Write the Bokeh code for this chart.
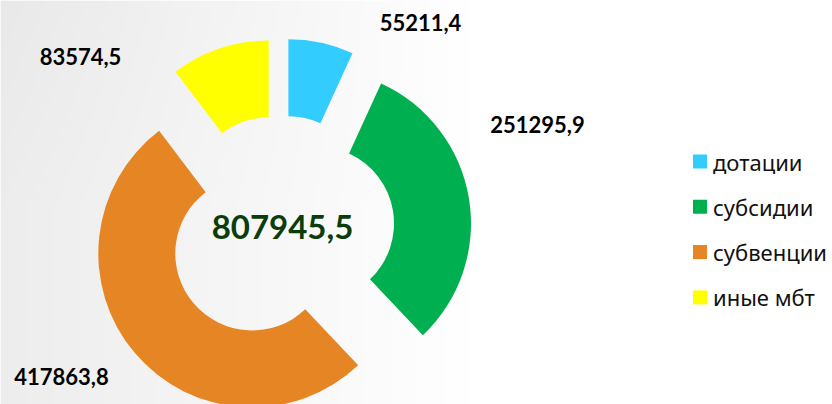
import numpy as np
from bokeh.plotting import figure
from bokeh.models import Range1d
from bokeh.core.properties import value
from bokeh.embed import file_html
from bokeh.resources import INLINE

# ---- data ----
categories = ["дотации", "субсидии", "субвенции", "иные мбт"]
values = [55211.4, 251295.9, 417863.8, 83574.5]
colors = ["#33CCFF", "#00B050", "#E68523", "#FFFF00"]
total_label = "807945,5"

# ---- layout (pixels, y measured from top of page) ----
W, H = 832, 404
CX, CY = 280, 229
R_OUT, R_IN = 154, 77
EXPLODE = 37
label_pos = [(420, 22), (537, 124), (61, 376), (80, 56)]
center_pos = (282, 226)
legend_x, legend_y0, legend_step = 699.5, 161, 45.3

def yup(y):
    return H - y

p = figure(width=W, height=H, x_range=Range1d(0, W), y_range=Range1d(0, H),
           output_backend="svg", toolbar_location=None, min_border=0)
p.axis.visible = False
p.grid.visible = False
p.outline_line_color = None
p.background_fill_color = "#ffffff"
p.border_fill_color = "#ffffff"

# soft grey-to-white background gradient
nx, ny = 208, 101
xs = np.linspace(0, W, nx)
ysv = np.linspace(0, H, ny)
XX, YY = np.meshgrid(xs, ysv)
g = 255 - 18 * np.clip((470 - XX) / 470, 0, 1) - 4 * np.clip((YY - 200) / 204, 0, 1) * np.clip((470 - XX) / 470, 0, 1)
g = g.astype(np.uint32)
img = (255 << 24) | (g << 16) | (g << 8) | g
p.image_rgba(image=[img.astype(np.uint32)], x=0, y=0, dw=W, dh=H)

# ---- donut slices ----
total = sum(values)
cum = np.cumsum([0] + values) / total
for i, v in enumerate(values):
    a_end = np.pi / 2 - 2 * np.pi * cum[i]
    a_start = np.pi / 2 - 2 * np.pi * cum[i + 1]
    mid = (a_start + a_end) / 2
    x = CX + EXPLODE * np.cos(mid)
    y = yup(CY) + EXPLODE * np.sin(mid)
    p.annular_wedge(x=x, y=y, inner_radius=R_IN, outer_radius=R_OUT,
                    start_angle=a_start, end_angle=a_end, direction="anticlock",
                    fill_color=colors[i], line_color=None)

# ---- value labels ----
for i, v in enumerate(values):
    txt = f"{v:.1f}".replace(".", ",")
    lx, ly = label_pos[i]
    p.text(x=[lx], y=[yup(ly)], text=[txt], text_align="center", text_baseline="middle",
           text_font=value("Lato"), text_font_style="bold", text_font_size="22px",
           text_color="#000000")

p.text(x=[center_pos[0]], y=[yup(center_pos[1])], text=[total_label],
       text_align="center", text_baseline="middle",
       text_font=value("Lato"), text_font_style="bold", text_font_size="33px",
       text_color="#0A3D0A")

# ---- legend ----
for i, c in enumerate(categories):
    yy = yup(legend_y0 + i * legend_step)
    p.rect(x=[legend_x], y=[yy], width=14, height=14, fill_color=colors[i], line_color=None)
    p.text(x=[legend_x + 13], y=[yy], text=[c], text_align="left", text_baseline="middle",
           text_font=value("Noto Sans"), text_font_size="22px", text_color="#111111")

open("out.html", "w").write(file_html(p, INLINE))
